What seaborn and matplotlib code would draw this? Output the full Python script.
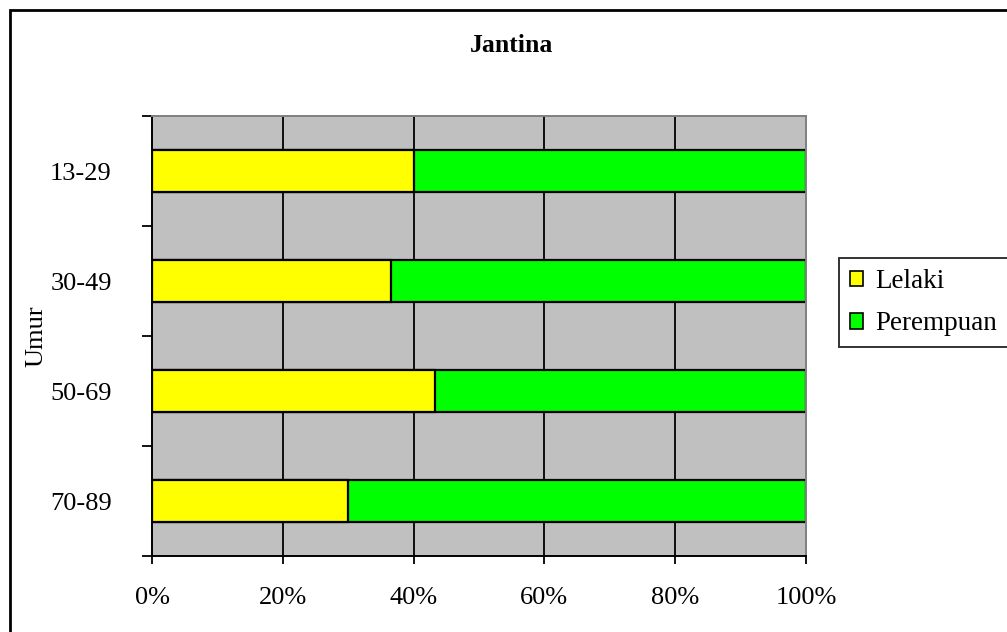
import numpy as np
import pandas as pd
import matplotlib
matplotlib.use("Agg")
import matplotlib.pyplot as plt
import seaborn as sns
from matplotlib.patches import Patch, Rectangle

# 데이터
umur = ["13-29", "30-49", "50-69", "70-89"]
lelaki = [40.0, 36.5, 43.3, 30.0]
perempuan = [60.0, 63.5, 56.7, 70.0]
x_ticks = [0, 20, 40, 60, 80, 100]
x_labels = ["0%", "20%", "40%", "60%", "80%", "100%"]

sns.set_style("white")
plt.rcParams["font.family"] = ["Liberation Serif", "DejaVu Serif"]
plt.rcParams["text.color"] = "black"
plt.rcParams["axes.labelcolor"] = "black"
plt.rcParams["xtick.color"] = "black"
plt.rcParams["ytick.color"] = "black"

df = pd.DataFrame({"Umur": umur, "Lelaki": lelaki, "Perempuan": perempuan})
df["Jumlah"] = df["Lelaki"] + df["Perempuan"]

fig = plt.figure(figsize=(10.07, 6.32), dpi=100)
ax = fig.add_axes([152 / 1007, 1 - 556 / 632, 654 / 1007, 440 / 632])
ax.set_facecolor("#C0C0C0")

# 그리드 (세로선)
for xv in x_ticks[1:-1]:
    ax.axvline(xv, color="black", lw=1.3, zorder=0.5)

# 누적 막대: 전체(초록) 위에 Lelaki(노랑)
sns.barplot(data=df, x="Jumlah", y="Umur", orient="h", color="#00FF00",
            width=0.39, edgecolor="black", linewidth=1.6, saturation=1, ax=ax, zorder=2)
sns.barplot(data=df, x="Lelaki", y="Umur", orient="h", color="#FFFF00",
            width=0.39, edgecolor="black", linewidth=1.6, saturation=1, ax=ax, zorder=3)

ax.set_xlim(0, 100)
ax.set_ylim(3.5, -0.5)
ax.set_xticks(x_ticks)
ax.set_xticklabels(x_labels, fontsize=19)
ax.set_yticks(range(len(umur)))
ax.set_yticklabels(umur, fontsize=19)
ax.set_yticks(np.arange(-0.5, len(umur), 1.0), minor=True)
ax.tick_params(axis="y", which="major", length=0, pad=29)
ax.tick_params(axis="y", which="minor", length=7, width=1.3, color="black", direction="out", left=True)
ax.tick_params(axis="x", which="major", length=6, width=1.3, color="black", direction="out", bottom=True, pad=16)
ax.set_xlabel("")
ax.set_ylabel("Umur", fontsize=19, labelpad=2)

for side in ["left", "bottom"]:
    ax.spines[side].set_color("black")
    ax.spines[side].set_linewidth(1.4)
for side in ["top", "right"]:
    ax.spines[side].set_color("#808080")
    ax.spines[side].set_linewidth(1.4)
    ax.spines[side].set_visible(True)

fig.text(512 / 1007, 1 - 45 / 632, "Jantina", ha="center", va="center",
         fontsize=18.5, fontweight="bold")

handles = [Patch(facecolor="#FFFF00", edgecolor="black", lw=1.2, label="Lelaki"),
           Patch(facecolor="#00FF00", edgecolor="black", lw=1.2, label="Perempuan")]
leg = fig.legend(handles=handles, loc="upper left",
                 bbox_to_anchor=(839 / 1007, 1 - 258 / 632), fontsize=19.5,
                 frameon=True, fancybox=False, shadow=False,
                 handlelength=0.5, handleheight=0.5, handletextpad=0.45,
                 borderpad=0.4, labelspacing=0.65, borderaxespad=0)
leg.get_frame().set_edgecolor("black")
leg.get_frame().set_linewidth(1.4)

# 차트 테두리
fig.patches.append(Rectangle((10 / 1007, -0.1), 1.2, 1 - 10 / 632 + 0.1,
                             transform=fig.transFigure, fill=False,
                             edgecolor="black", lw=2, zorder=0))

fig.savefig("out.png", dpi=100)
